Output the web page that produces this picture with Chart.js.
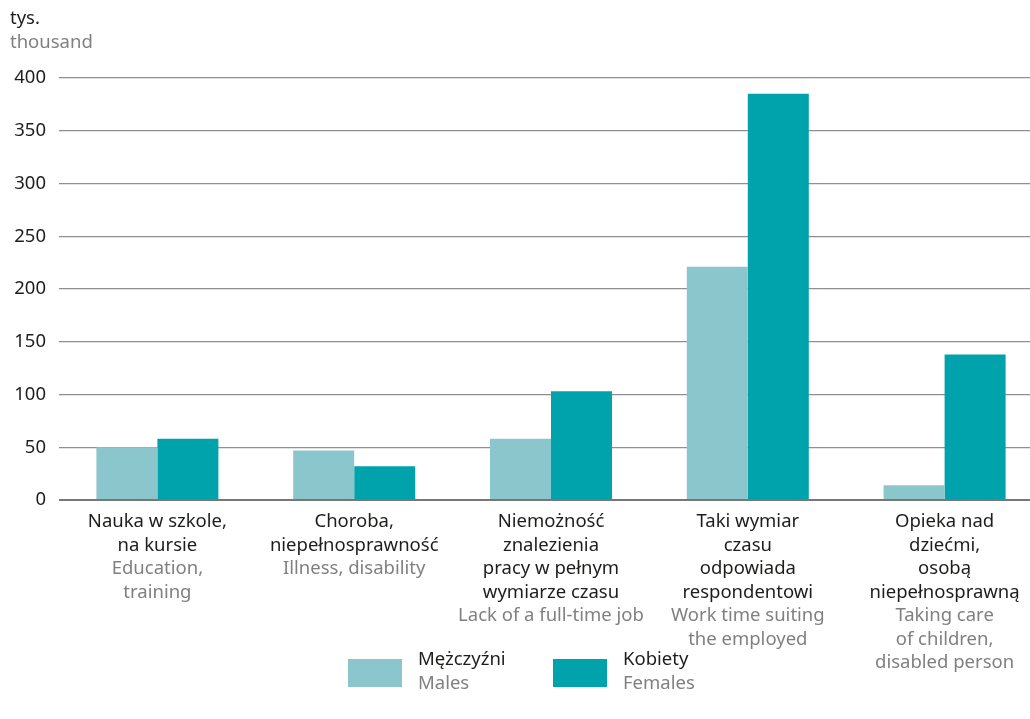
<!DOCTYPE html>
<html>
<head>
<meta charset="utf-8">
<script src="https://cdn.jsdelivr.net/npm/chart.js@4/dist/chart.umd.min.js"></script>
<style>
  html, body { margin: 0; padding: 0; background: #fff; overflow: hidden; }
  #wrap { position: relative; width: 1030px; height: 719px; overflow: hidden; }
</style>
</head>
<body>
<div id="wrap"><canvas id="wykres" width="1043" height="719"></canvas></div>
<script>
// === DANE ===
const kategoriePL = [
  ["Nauka w szkole,", "na kursie"],
  ["Choroba,", "niepełnosprawność"],
  ["Niemożność", "znalezienia", "pracy w pełnym", "wymiarze czasu"],
  ["Taki wymiar", "czasu", "odpowiada", "respondentowi"],
  ["Opieka nad", "dziećmi,", "osobą", "niepełnosprawną"]
];
const kategorieEN = [
  ["Education,", "training"],
  ["Illness, disability"],
  ["Lack of a full-time job"],
  ["Work time suiting", "the employed"],
  ["Taking care", "of children,", "disabled person"]
];
const mezczyzni = [50, 47, 58, 221, 14];
const kobiety = [58, 32, 103, 385, 138];
const seriePL = ["Mężczyźni", "Kobiety"];
const serieEN = ["Males", "Females"];
const osYMax = 400;
const osYKrok = 50;

const kolorM = "#8cc6cd";
const kolorK = "#00a3ac";
const czcionka = "'Noto Sans', sans-serif";
const szary = "#808080";
const czarny = "#1d1d1b";

// === PODPISY OSI X + LEGENDA (rysowane recznie, dwa kolory w jednej etykiecie) ===
const podpisy = {
  id: "podpisy",
  afterDraw(chart) {
    const ctx = chart.ctx;
    const x = chart.scales.x;
    ctx.save();
    ctx.font = "18.5px " + czcionka;
    ctx.textAlign = "center";
    ctx.textBaseline = "middle";
    const wiersz = 23.5;
    kategoriePL.forEach((pl, i) => {
      const cx = x.getPixelForValue(i);
      let y = 522;
      ctx.fillStyle = czarny;
      pl.forEach(t => { ctx.fillText(t, cx, y); y += wiersz; });
      ctx.fillStyle = szary;
      kategorieEN[i].forEach(t => { ctx.fillText(t, cx, y); y += wiersz; });
    });

    // legenda
    const pozycje = [348, 553];
    const kolory = [kolorM, kolorK];
    ctx.textAlign = "left";
    pozycje.forEach((lx, i) => {
      ctx.fillStyle = kolory[i];
      ctx.fillRect(lx, 659, 54, 28);
      ctx.fillStyle = czarny;
      ctx.fillText(seriePL[i], lx + 70, 660);
      ctx.fillStyle = szary;
      ctx.fillText(serieEN[i], lx + 70, 684);
    });

    // jednostka
    ctx.fillStyle = czarny;
    ctx.fillText("tys.", 10, 19);
    ctx.fillStyle = szary;
    ctx.fillText("thousand", 10, 43);
    ctx.restore();
  }
};

new Chart(document.getElementById("wykres"), {
  type: "bar",
  data: {
    labels: kategoriePL.map(k => k.join(" ")),
    datasets: [
      { label: seriePL[0], data: mezczyzni, backgroundColor: kolorM },
      { label: seriePL[1], data: kobiety, backgroundColor: kolorK }
    ]
  },
  options: {
    responsive: false,
    animation: false,
    events: [],
    layout: { padding: { top: 78, right: 0, left: 0, bottom: 0 } },
    datasets: {
      bar: { categoryPercentage: 0.62, barPercentage: 1.0 }
    },
    plugins: {
      legend: { display: false },
      tooltip: { enabled: false }
    },
    scales: {
      x: {
        grid: { display: false },
        border: { display: false },
        ticks: { display: false },
        afterFit(s) { s.height = 219; }
      },
      y: {
        min: 0,
        max: osYMax,
        ticks: {
          stepSize: osYKrok,
          color: czarny,
          padding: 13,
          font: { family: czcionka, size: 18.5 }
        },
        grid: {
          drawTicks: false,
          color: c => (c.tick.value === 0 ? "#777" : "#8f8f8f"),
          lineWidth: c => (c.tick.value === 0 ? 2 : 1.3)
        },
        border: { display: false },
        afterFit(s) { s.width = 59; }
      }
    }
  },
  plugins: [podpisy]
});
</script>
</body>
</html>
